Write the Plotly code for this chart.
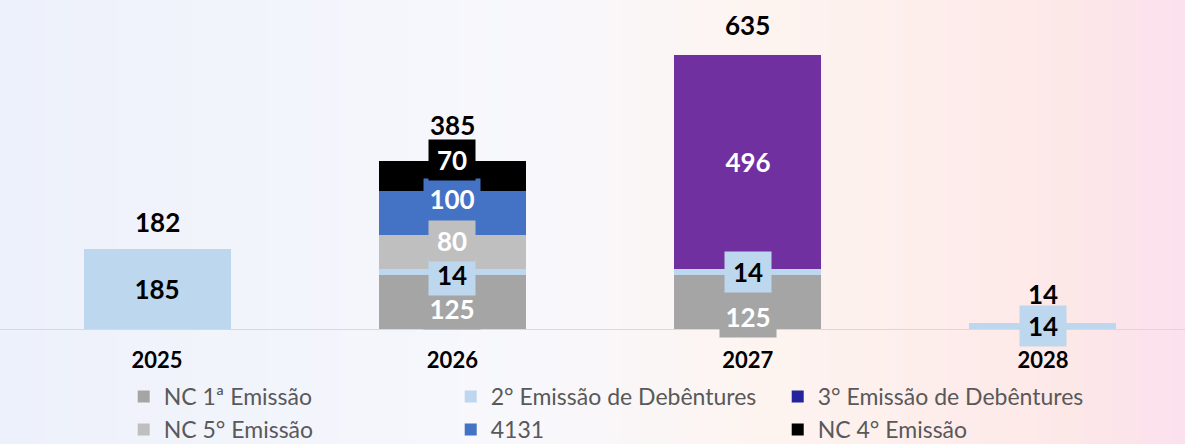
import plotly.graph_objects as go

# data
years = ['2025', '2026', '2027', '2028']
nc1 = [None, 125, 125, None]        # NC 1ª Emissão
deb2 = [185, 14, 14, 14]            # 2° Emissão de Debêntures
deb3 = [0, 0, 496, 0]               # 3° Emissão de Debêntures
nc5 = [None, 80, None, None]        # NC 5° Emissão
l4131 = [None, 100, None, None]     # 4131
nc4 = [None, 70, None, None]        # NC 4° Emissão
totals = [182, 385, 635, 14]

FONT = 'Lato'
xpos = list(range(len(years)))

# trace order = stack order (deb3 only exists in 2027, right above deb2) = legend order
series = [
    ('NC 1ª Emissão', nc1, '#A5A5A5', 'white'),
    ('2° Emissão de Debêntures', deb2, '#BDD7EE', 'black'),
    ('3° Emissão de Debêntures', deb3, '#7030A0', 'white'),
    ('NC 5° Emissão', nc5, '#BFBFBF', 'white'),
    ('4131', l4131, '#4472C4', 'white'),
    ('NC 4° Emissão', nc4, '#000000', 'white'),
]

# pixel nudges for the inner labels (they dodge each other in the original)
label_shift = {('2026', 'NC 1ª Emissão'): -7, ('2026', '2° Emissão de Debêntures'): -3,
               ('2026', 'NC 5° Emissão'): 11, ('2026', '4131'): 14,
               ('2026', 'NC 4° Emissão'): 16, ('2027', 'NC 1ª Emissão'): -15}
total_shift = [27, 36, 30, 29]

fig = go.Figure()

for name, vals, col, lcol in series:
    mcol = col
    if name.startswith('3°'):
        # legend swatch is navy in the original, the bar itself purple
        mcol = [col if v else '#23239B' for v in vals]
    fig.add_trace(go.Bar(
        x=xpos, y=vals, name=name, marker=dict(color=mcol, line=dict(width=0)),
        hoverinfo='skip'
    ))

# labels inside the stacks, boxed in the segment colour
annotations = []
base = [0] * len(years)
for name, vals, col, lcol in series:
    for i, v in enumerate(vals):
        if not v:
            continue
        txt = str(v)
        annotations.append(dict(
            x=xpos[i], y=base[i] + v / 2, xref='x', yref='y', text=txt, showarrow=False,
            yshift=label_shift.get((years[i], name), 0),
            bgcolor=col, width=44 if len(txt) < 3 else 54, height=38,
            font=dict(family=FONT, size=26, color=lcol, weight=700)
        ))
        base[i] += v

# totals above the stacks
for i, t in enumerate(totals):
    annotations.append(dict(
        x=xpos[i], y=base[i], xref='x', yref='y', text=str(t), showarrow=False,
        yshift=total_shift[i],
        font=dict(family=FONT, size=26, color='black', weight=700)
    ))

# background gradient built from thin vertical strips
stops = [(0.0, (237, 241, 251)), (0.45, (248, 248, 252)), (0.65, (253, 244, 240)),
         (0.9, (253, 232, 232)), (1.0, (251, 224, 238))]


def grad(t):
    for (t0, c0), (t1, c1) in zip(stops[:-1], stops[1:]):
        if t <= t1:
            f = (t - t0) / (t1 - t0)
            return 'rgb(%d,%d,%d)' % tuple(round(a + (b - a) * f) for a, b in zip(c0, c1))
    return 'rgb(%d,%d,%d)' % stops[-1][1]


n = 80
shapes = []
for k in range(n):
    shapes.append(dict(type='rect', xref='paper', yref='paper', x0=k / n, x1=(k + 1) / n + 0.002,
                       y0=-0.4, y1=1.02, fillcolor=grad((k + 0.5) / n), line=dict(width=0),
                       layer='below'))

fig.update_layout(
    width=1185, height=444,
    barmode='stack', bargap=0.502,
    margin=dict(l=0, r=0, t=0, b=115, autoexpand=False),
    paper_bgcolor='white', plot_bgcolor='rgba(0,0,0,0)',
    shapes=shapes, annotations=annotations,
    showlegend=True,
    legend=dict(orientation='h', traceorder='normal', xanchor='left', yanchor='top',
                x=0.1044, y=-0.14, entrywidth=282, entrywidthmode='pixels',
                bgcolor='rgba(0,0,0,0)', font=dict(family=FONT, size=23, color='#595959')),
    xaxis=dict(range=[-0.532, 3.481], tickvals=xpos, ticktext=years, showline=True,
               linecolor='#D9D9D9', linewidth=1, ticks='', showgrid=False, zeroline=False,
               ticklabelstandoff=12,
               tickfont=dict(family=FONT, size=22, color='black', weight=700)),
    yaxis=dict(range=[0, 762.5], showticklabels=False, showgrid=False, zeroline=False,
               showline=False, ticks=''),
)

# page body margin would push the figure off by 8px
fig.write_html('out.html', post_script="document.body.style.margin='0';",
               config={'displayModeBar': False})
